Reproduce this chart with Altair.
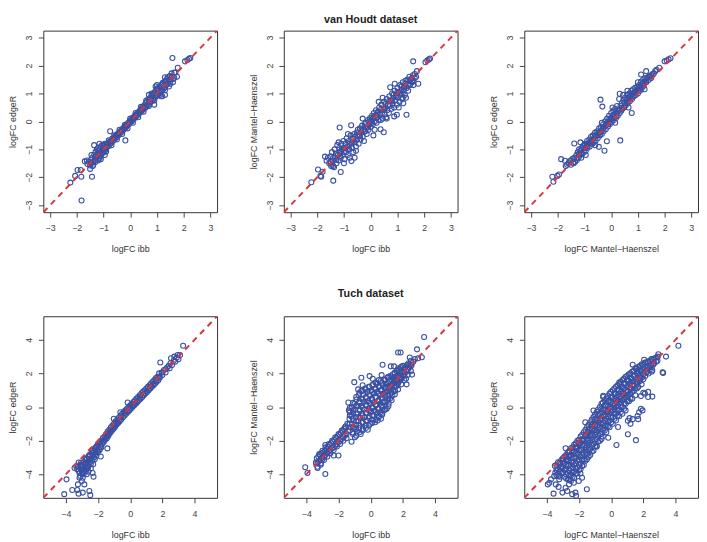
import altair as alt
import pandas as pd

# ---------------- data ----------------
# van Houdt dataset: (logFC ibb, logFC edgeR)
vh_ibb_edger = [
    (-1.55,-1.45),(-1.5,-1.58),(-1.48,-1.38),(-1.45,-1.5),(-1.42,-1.3),(-1.4,-1.45),(-1.38,-1.55),(-1.35,-1.2),
    (-1.35,-0.85),(-1.33,-1.4),(-1.3,-1.25),(-1.3,-1.1),(-1.28,-1.38),(-1.25,-1.0),(-1.25,-1.3),(-1.22,-1.18),
    (-1.2,-1.4),(-1.2,-0.95),(-1.18,-1.25),(-1.15,-1.05),(-1.15,-1.32),(-1.12,-1.15),(-1.1,-0.9),(-1.1,-1.25),
    (-1.08,-1.05),(-1.05,-1.15),(-1.05,-0.85),(-1.02,-0.98),(-1.0,-1.1),(-0.98,-0.9),(-0.95,-1.05),(-0.95,-0.8),
    (-0.92,-0.95),(-0.9,-1.0),(-0.88,-0.82),(-0.85,-0.9),(-0.82,-0.78),(-0.8,-0.88),(-0.78,-0.74),(-0.75,-0.35),
    (-0.75,-0.8),(-0.72,-0.7),(-0.7,-0.76),(-0.68,-0.62),(-0.65,-0.7),(-0.62,-0.6),(-0.6,-0.66),(-0.58,-0.55),
    (-0.55,-0.6),(-0.52,-0.5),(-0.5,-0.56),(-0.48,-0.45),(-0.45,-0.5),(-0.42,-0.4),(-0.4,-0.46),(-0.37,-0.35),
    (-0.35,-0.4),(-0.32,-0.3),(-0.3,-0.36),(-0.27,-0.25),(-0.25,-0.3),(-0.22,-0.2),(-0.2,-0.25),(-0.18,-0.68),
    (-0.17,-0.15),(-0.15,-0.2),(-0.12,-0.1),(-0.1,-0.15),(-0.07,-0.05),(-0.05,-0.1),(-0.02,0.0),(0.0,-0.04),
    (0.03,0.05),(0.05,0.0),(0.08,0.1),(0.1,0.06),(0.12,0.15),(0.15,0.1),(0.18,0.2),(0.2,0.15),(0.22,0.25),
    (0.25,0.2),(0.28,0.3),(0.3,0.25),(0.33,0.35),(0.35,0.3),(0.38,0.42),(0.4,0.35),(0.43,0.47),(0.45,0.4),
    (0.48,0.52),(0.5,0.44),(0.53,0.58),(0.55,0.48),(0.58,0.65),(0.6,0.52),(0.62,0.7),(0.65,0.58),(0.68,0.78),
    (0.7,0.62),(0.72,0.82),(0.75,0.68),(0.78,0.88),(0.8,0.72),(0.82,0.95),(0.85,0.78),(0.88,1.0),(0.9,0.82),
    (0.92,1.05),(0.95,0.88),(0.98,1.12),(1.0,0.92),(1.02,1.15),(1.05,0.98),(1.08,1.2),(1.1,1.02),(1.12,1.25),
    (1.15,1.08),(1.18,1.3),(1.2,1.12),(1.22,1.38),(1.25,1.18),(1.28,1.42),(1.3,1.22),(1.33,1.45),(1.35,1.3),
    (1.38,1.52),(1.4,1.35),(1.45,1.5),(1.48,1.62),(1.5,1.45),(1.55,1.6),(1.6,1.52),(1.65,1.75),(1.69,1.74),
    (1.78,1.92),(1.58,2.27),(2.05,2.15),(2.14,2.2),(2.2,2.24),(2.25,2.27),(1.3,0.95),(1.2,0.9),(0.9,0.6),
    (1.45,1.25),(1.6,1.4),(1.75,1.6),(0.7,0.95),(1.0,1.3),(1.3,1.58),
    (-1.7,-1.43),(-1.97,-1.74),(-1.85,-1.74),(-1.83,-1.98),(-2.06,-1.95),(-2.24,-2.19),(-1.43,-1.98),
    (-1.82,-2.83),(-1.4,-1.6),(-1.6,-1.52),(-1.62,-1.4),
    (-1.3,-1.45),(-1.2,-1.05),(-1.1,-1.35),(-1.0,-0.85),(-0.9,-1.08),(-0.8,-0.68),(-0.7,-0.85),(-0.6,-0.5),
    (-0.5,-0.65),(-0.4,-0.3),(-0.3,-0.45),(-0.2,-0.12),(-0.1,-0.25),(0.0,0.1),(0.1,-0.05),(0.2,0.3),
    (0.3,0.15),(0.4,0.52),(0.5,0.35),(0.6,0.75),(0.7,0.55),(0.8,1.0),(0.9,0.75),(1.0,1.18),(1.1,0.95),
    (1.2,1.35),(1.3,1.12),(1.4,1.58),(1.5,1.35),(1.55,1.72),(1.65,1.55),(-1.45,-1.2),(-1.5,-1.7),
    (-1.15,-0.8),(-0.95,-1.2),(0.95,1.25),(1.15,0.9),
]

# van Houdt dataset: (logFC ibb, logFC Mantel-Haenszel)
vh_ibb_mh = [
    (-1.65,-1.41),(-1.71,-1.26),(-1.6,-1.3),(-1.55,-1.5),(-1.5,-1.25),(-1.48,-1.6),(-1.45,-1.1),(-1.42,-1.4),
    (-1.4,-1.6),(-1.37,-1.64),(-1.35,-1.0),(-1.33,-1.3),(-1.3,-1.15),(-1.28,-1.5),(-1.25,-0.85),(-1.22,-1.2),
    (-1.2,-1.4),(-1.18,-0.95),(-1.16,-0.22),(-1.15,-1.1),(-1.12,-1.81),(-1.12,-1.3),(-1.1,-0.8),(-1.08,-1.0),
    (-1.05,-1.2),(-1.02,-0.7),(-1.0,-0.95),(-0.98,-1.35),(-0.95,-0.8),(-0.92,-1.1),(-0.9,-0.6),(-0.88,-0.9),
    (-0.85,-1.2),(-0.82,-0.7),(-0.8,-1.0),(-0.78,-1.3),(-0.75,-0.5),(-0.73,-0.14),(-0.72,-1.42),(-0.72,-0.8),
    (-0.7,-0.95),(-0.68,-0.6),(-0.65,-1.1),(-0.62,-0.45),(-0.6,-1.3),(-0.6,-0.75),(-0.58,-0.55),(-0.55,-0.9),
    (-0.52,-0.4),(-0.5,-0.65),(-0.48,-0.3),(-0.45,-0.8),(-0.42,-0.5),(-0.4,-0.25),(-0.38,-0.65),(-0.35,-0.4),
    (-0.32,-0.15),(-0.3,-0.55),(-0.28,-0.3),(-0.25,-0.7),(-0.22,-0.1),(-0.2,-0.35),(-0.18,-0.05),(-0.15,-0.45),
    (-0.12,-0.2),(-0.1,0.05),(-0.08,-0.3),(-0.05,-0.1),(-0.02,0.12),(0.0,-0.2),(0.02,0.0),(0.05,0.2),
    (0.08,-0.1),(0.1,-0.5),(0.1,0.1),(0.12,0.3),(0.15,0.0),(0.18,0.2),(0.2,0.4),(0.22,-0.05),(0.25,0.15),
    (0.28,0.35),(0.3,0.05),(0.32,0.5),(0.35,0.25),(0.37,-0.28),(0.38,0.05),(0.4,0.6),(0.42,0.3),(0.45,0.1),
    (0.48,0.45),(0.49,-0.39),(0.5,0.7),(0.52,0.25),(0.55,0.5),(0.58,0.15),(0.6,0.8),(0.62,0.4),(0.65,0.6),
    (0.68,0.3),(0.7,0.9),(0.72,0.55),(0.73,1.22),(0.75,0.75),(0.78,0.45),(0.8,1.0),(0.82,0.65),(0.85,0.85),
    (0.88,0.18),(0.88,0.5),(0.9,1.1),(0.92,0.75),(0.95,0.95),(0.98,0.24),(0.98,0.6),(1.0,1.2),(1.02,0.85),
    (1.05,1.05),(1.08,0.7),(1.1,1.3),(1.12,0.95),(1.15,1.15),(1.18,0.8),(1.2,1.4),(1.22,0.65),(1.22,1.05),
    (1.25,1.25),(1.28,0.95),(1.3,1.45),(1.32,0.85),(1.34,0.24),(1.35,1.2),(1.38,1.5),(1.4,1.1),(1.42,1.35),
    (1.45,1.6),(1.48,1.3),(1.5,1.5),(1.55,1.4),(1.58,1.65),(1.6,1.3),(1.65,1.55),(1.7,1.6),(1.73,1.8),
    (1.78,1.35),(1.59,2.15),(2.05,2.12),(2.12,2.18),(2.18,2.22),(2.22,2.25),
    (-1.4,-2.12),(-1.97,-1.72),(-1.8,-1.8),(-1.85,-1.98),(-2.22,-2.18),(-1.88,-1.95),
    (-1.5,-1.45),(-1.45,-1.55),(-1.4,-1.3),(-1.3,-1.38),(-1.25,-1.2),(-1.15,-1.25),(-1.1,-1.05),(-1.0,-1.1),
    (-0.95,-0.95),(-0.85,-1.0),(-0.8,-0.8),(-0.7,-0.75),(-0.65,-0.62),(-0.55,-0.68),(-0.5,-0.48),(-0.4,-0.52),
    (-0.35,-0.32),(-0.25,-0.38),(-0.2,-0.18),(-0.1,-0.22),(-0.05,0.0),(0.05,-0.05),(0.1,0.15),(0.2,0.12),
    (0.25,0.3),(0.35,0.28),(0.4,0.45),(0.5,0.42),(0.55,0.62),(0.65,0.58),(0.7,0.75),(0.8,0.72),(0.85,0.95),
    (0.95,0.88),(1.0,1.05),(1.1,1.02),(1.15,1.25),(1.25,1.15),(1.3,1.35),(1.4,1.3),(1.45,1.45),(1.55,1.55),
    (1.6,1.45),(1.65,1.7),(-1.2,-0.75),(-1.0,-1.5),(-0.55,-1.05),(-0.3,0.1),(0.15,-0.3),(0.45,0.85),
    (0.6,0.1),(0.9,1.35),(1.2,0.85),(-0.85,-0.45),(0.3,0.7),(1.05,0.5),
]

# van Houdt dataset: (logFC Mantel-Haenszel, logFC edgeR)
vh_mh_edger = [
    (-1.6,-1.5),(-1.55,-1.42),(-1.5,-1.55),(-1.45,-1.35),(-1.42,-1.48),(-1.38,-0.79),(-1.38,-1.3),(-1.35,-1.45),
    (-1.3,-1.2),(-1.28,-1.38),(-1.25,-1.1),(-1.22,-1.3),(-1.2,-1.0),(-1.18,-1.22),(-1.15,-1.05),(-1.12,-1.3),
    (-1.1,-0.95),(-1.08,-1.15),(-1.05,-0.88),(-1.02,-1.1),(-1.0,-0.95),(-0.98,-0.8),(-0.95,-1.05),(-0.92,-0.85),
    (-0.9,-0.7),(-0.88,-0.95),(-0.85,-0.8),(-0.82,-0.65),(-0.8,-0.9),(-0.78,-0.72),(-0.75,-0.55),(-0.72,-0.8),
    (-0.7,-0.65),(-0.68,-0.5),(-0.65,-0.75),(-0.62,-0.55),(-0.6,-0.4),(-0.58,-0.68),(-0.55,-0.5),(-0.52,-0.35),
    (-0.5,-0.6),(-0.48,-0.42),(-0.46,-0.91),(-0.45,-0.25),(-0.42,-0.5),(-0.4,0.78),(-0.4,-0.35),(-0.38,-0.2),
    (-0.35,-0.45),(-0.33,0.53),(-0.32,-0.25),(-0.3,-0.1),(-0.28,-0.35),(-0.25,-1.05),(-0.25,-0.18),(-0.22,0.0),
    (-0.2,-0.28),(-0.18,-0.08),(-0.16,-0.71),(-0.15,0.1),(-0.12,-0.18),(-0.1,0.0),(-0.08,0.2),(-0.05,-0.1),
    (-0.02,0.1),(0.0,0.3),(0.02,-0.02),(0.05,0.18),(0.08,0.38),(0.1,0.05),(0.12,0.25),(0.15,0.45),(0.18,0.12),
    (0.2,0.32),(0.22,0.55),(0.25,0.2),(0.28,0.42),(0.3,0.8),(0.32,0.99),(0.32,0.3),(0.34,-0.68),(0.35,0.55),
    (0.38,0.38),(0.4,0.65),(0.42,0.45),(0.45,0.75),(0.48,0.5),(0.5,0.68),(0.52,0.85),(0.55,0.58),(0.58,0.78),
    (0.6,0.95),(0.61,1.1),(0.62,0.65),(0.65,0.85),(0.68,1.0),(0.7,0.72),(0.72,0.92),(0.75,1.1),(0.77,0.3),
    (0.78,0.8),(0.8,1.0),(0.82,1.15),(0.85,0.9),(0.88,1.05),(0.9,1.2),(0.92,0.95),(0.95,1.12),(0.98,1.25),
    (1.0,1.0),(1.02,1.18),(1.05,1.3),(1.08,1.1),(1.1,1.25),(1.12,1.43),(1.12,1.68),(1.15,1.2),(1.18,1.35),
    (1.2,1.5),(1.22,1.28),(1.25,1.42),(1.28,1.55),(1.31,1.8),(1.32,1.4),(1.35,1.55),(1.4,1.48),(1.45,1.62),
    (1.5,1.55),(1.55,1.7),(1.65,1.8),(1.8,1.92),(2.0,2.15),(2.08,2.18),(2.15,2.22),(2.22,2.26),
    (-1.87,-1.35),(-1.73,-1.41),(-2.2,-1.98),(-2.16,-2.16),(-2.01,-1.95),(-1.95,-1.9),(-1.7,-1.6),(-1.65,-1.55),
    (-1.5,-1.4),(-1.4,-1.5),(-1.3,-1.32),(-1.2,-1.15),(-1.1,-1.18),(-1.0,-0.85),(-0.9,-0.9),(-0.8,-0.75),
    (-0.7,-0.8),(-0.6,-0.55),(-0.5,-0.5),(-0.4,-0.4),(-0.3,-0.25),(-0.2,-0.15),(-0.1,-0.08),(0.0,0.08),
    (0.1,0.15),(0.2,0.2),(0.3,0.4),(0.4,0.48),(0.5,0.55),(0.6,0.7),(0.7,0.85),(0.8,0.88),(0.9,1.05),
    (1.0,1.12),(1.1,1.15),(1.2,1.38),(1.3,1.45),(1.4,1.6),(1.5,1.65),(1.6,1.72),(1.7,1.85),(-1.15,-0.75),
    (-0.95,-1.2),(-0.6,-0.85),(-0.35,-0.05),(0.05,0.5),(0.15,-0.05),(0.45,0.95),(0.65,0.5),(1.0,1.4),(1.25,1.15),
]

# Tuch dataset: (logFC ibb, logFC edgeR)
tu_ibb_edger = [
    (3.29,3.65),(2.95,3.1),(2.74,3.0),(2.54,2.9),(1.87,2.65),(3.0,2.85),(2.8,2.7),(2.6,2.5),(2.45,2.3),
    (2.3,2.35),(2.2,2.05),(2.1,2.2),(2.0,1.9),(1.95,2.05),(1.85,1.75),(1.8,2.0),(1.75,1.6),(1.7,1.8),
    (1.65,1.5),(1.6,1.72),(1.55,1.4),(1.5,1.6),(1.45,1.3),(1.4,1.5),(1.35,1.2),(1.3,1.42),(1.25,1.1),
    (1.2,1.3),(1.15,1.0),(1.1,1.2),(1.05,0.9),(1.0,1.1),(0.95,0.8),(0.9,1.0),(0.85,0.7),(0.8,0.92),
    (0.75,0.6),(0.7,0.82),(0.65,0.5),(0.6,0.7),(0.55,0.4),(0.5,0.6),(0.45,0.3),(0.4,0.5),(0.35,0.2),
    (0.3,0.4),(0.25,0.1),(0.2,0.3),(0.15,0.0),(0.1,0.2),(0.05,-0.1),(0.0,0.1),(-0.05,-0.2),(-0.1,0.0),
    (-0.16,0.27),(-0.15,-0.3),(-0.2,-0.1),(-0.25,-0.4),(-0.3,-0.2),(-0.35,-0.5),(-0.4,-0.3),(-0.45,-0.6),
    (-0.5,-0.4),(-0.55,-0.72),(-0.6,-0.5),(-0.61,-0.31),(-0.65,-0.85),(-0.7,-0.62),(-0.75,-0.95),(-0.8,-0.75),
    (-0.85,-1.05),(-0.9,-0.85),(-0.95,-1.2),(-1.0,-0.98),(-1.02,-0.7),(-1.05,-1.3),(-1.1,-1.1),(-1.15,-1.42),
    (-1.2,-1.2),(-1.25,-1.55),(-1.28,-1.48),(-1.3,-1.35),(-1.35,-1.7),(-1.4,-1.45),(-1.42,-2.46),(-1.45,-1.85),
    (-1.5,-1.6),(-1.55,-1.95),(-1.6,-1.75),(-1.65,-2.1),(-1.7,-1.85),(-1.75,-2.2),(-1.8,-2.0),(-1.83,-2.94),
    (-1.85,-2.35),(-1.9,-2.1),(-1.95,-2.5),(-2.0,-2.2),(-2.05,-2.65),(-2.1,-2.35),(-2.15,-2.8),(-2.2,-2.45),
    (-2.25,-3.0),(-2.3,-2.6),(-2.3,-2.88),(-2.35,-3.2),(-2.4,-2.75),(-2.45,-3.4),(-2.5,-2.9),(-2.55,-3.1),
    (-2.6,-3.55),(-2.6,-2.95),(-2.65,-3.25),(-2.7,-3.7),(-2.7,-3.05),(-2.75,-3.4),(-2.8,-3.15),(-2.85,-3.6),
    (-2.9,-3.3),(-2.95,-3.85),(-3.0,-3.45),(-3.05,-3.7),(-3.1,-3.5),(-3.2,-3.8),(-3.25,-3.55),(-3.3,-3.7),
    (-3.96,-4.3),(-4.1,-5.18),(-3.6,-4.93),(-3.29,-4.93),(-3.21,-5.15),(-2.95,-5.09),(-2.48,-5.24),(-2.54,-4.99),
    (-2.85,-4.6),(-3.25,-4.6),(-2.95,-4.21),(-2.34,-3.92),(-2.28,-4.15),(-2.64,-3.63),(-3.35,-3.53),(-3.15,-3.92),
    (-2.88,-3.72),(-3.09,-3.43),(-2.74,-3.33),(-3.46,-3.63),(-3.0,-4.4),(-2.7,-4.0),(-3.1,-4.1),
    (-3.2,-3.3),(-3.15,-4.2),(-3.05,-3.3),(-3.0,-3.9),(-2.95,-3.55),(-2.9,-4.0),(-2.8,-3.45),(-2.8,-3.85),
    (-2.75,-3.1),(-2.65,-3.5),(-2.6,-3.85),(-2.55,-2.85),(-2.5,-3.3),(-2.45,-3.65),(-2.4,-3.05),(-2.35,-2.55),
    (-2.3,-3.4),(-2.25,-2.7),(-2.2,-3.1),(-2.15,-2.45),(-2.1,-2.9),(-2.05,-2.3),(-2.0,-2.7),(-1.95,-2.15),
    (-1.9,-2.55),(-1.85,-2.05),(-1.8,-2.4),(-1.7,-2.05),(-1.6,-1.95),(-1.5,-1.8),(-1.4,-1.65),(-1.3,-1.55),
    (-1.2,-1.35),(-1.1,-1.25),(-1.0,-1.15),(-0.9,-1.0),(-0.8,-0.9),(-0.7,-0.8),(-0.55,-0.55),(-0.35,-0.35),
    (-0.2,-0.25),(0.0,-0.05),(0.2,0.15),(0.4,0.35),(0.6,0.55),(0.8,0.75),(1.0,0.95),(1.2,1.15),(1.4,1.35),
    (1.6,1.55),(1.8,1.8),(2.0,2.05),(2.2,2.25),(2.4,2.45),(2.5,2.6),(2.7,2.75),(2.9,2.95),(3.1,3.1),
]

# Tuch dataset: (logFC ibb, logFC Mantel-Haenszel)
tu_ibb_mh = [
    (-3.4,-3.3),(-3.35,-3.05),(-3.3,-3.35),(-3.25,-2.95),(-3.2,-3.2),(-3.15,-2.85),(-3.1,-3.1),(-3.05,-2.75),
    (-3.0,-3.0),(-2.95,-2.7),(-2.9,-2.95),(-2.85,-2.6),(-2.82,-2.26),(-2.8,-2.85),(-2.75,-2.5),(-2.7,-2.75),
    (-2.65,-2.35),(-2.6,-2.65),(-2.55,-2.25),(-2.5,-2.55),(-2.45,-2.15),(-2.4,-2.45),(-2.35,-2.05),(-2.3,-2.4),
    (-2.25,-1.95),(-2.2,-2.3),(-2.15,-1.85),(-2.1,-2.2),(-2.05,-1.75),(-2.0,-2.1),(-1.95,-1.65),(-1.9,-2.0),
    (-1.85,-1.55),(-1.8,-1.9),(-1.75,-1.45),(-1.7,-1.8),(-1.65,-1.3),(-1.6,-1.7),(-1.55,-1.15),(-1.5,-1.6),
    (-1.45,-1.0),(-1.4,-1.45),
    (-1.39,0.27),(-1.35,-0.2),(-1.32,-0.7),(-1.29,-0.31),(-1.25,-1.2),(-1.2,-0.55),(-1.18,-0.05),(-1.15,-1.0),
    (-1.12,-1.5),(-1.1,-0.35),(-1.05,-0.8),(-1.0,0.2),(-1.0,-1.25),(-0.98,-1.8),(-0.95,-0.15),(-0.92,-0.6),
    (-0.9,-1.05),(-0.88,0.45),(-0.85,-1.45),(-0.82,0.05),(-0.8,-0.4),(-0.78,-0.85),(-0.75,0.7),(-0.72,-1.25),
    (-0.7,0.25),(-0.68,-0.2),(-0.65,-0.65),(-0.62,-1.6),(-0.6,0.95),(-0.58,0.5),(-0.55,0.05),(-0.52,-0.4),
    (-0.5,-0.9),(-0.48,-1.3),(-0.45,0.75),(-0.42,0.3),(-0.4,-0.15),(-0.38,-0.6),(-0.35,1.1),(-0.32,-1.1),
    (-0.3,0.55),(-0.28,0.1),(-0.25,-0.35),(-0.22,-0.8),(-0.2,0.9),(-0.18,-1.35),(-0.15,0.35),(-0.12,-0.1),
    (-0.1,1.2),(-0.08,-0.55),(-0.05,0.7),(-0.02,-1.0),(0.0,0.2),(0.02,-0.3),(0.05,1.0),(0.08,0.5),
    (0.1,-0.75),(0.12,0.0),(0.15,1.35),(0.18,-0.5),(0.2,0.8),(0.22,0.3),(0.25,-0.2),(0.28,-0.9),(0.3,1.1),
    (0.32,0.6),(0.35,0.1),(0.38,-0.4),(0.4,1.4),(0.42,0.9),(0.45,-0.1),(0.48,0.4),(0.5,-0.6),(0.52,1.2),
    (0.55,0.7),(0.58,0.2),(0.6,-0.3),(0.62,1.55),(0.65,1.0),(0.68,0.5),(0.7,0.0),(0.72,-0.45),(0.75,1.3),
    (0.78,0.8),(0.8,0.3),(0.82,-0.2),(0.85,1.65),(0.88,1.1),(0.9,0.6),(0.92,0.1),(0.95,1.4),(0.98,0.9),
    (1.02,0.4),(1.05,1.75),(1.08,1.2),(1.1,0.7),(1.12,0.2),
    (1.15,1.5),(1.18,1.0),(1.2,0.5),(1.22,1.85),(1.25,1.3),(1.28,0.85),(1.3,1.6),(1.32,1.1),(1.35,0.7),
    (1.38,1.95),(1.4,1.4),(1.42,1.0),(1.45,1.7),(1.48,1.2),(1.5,2.05),(1.52,0.95),(1.55,1.5),(1.58,1.8),
    (1.6,1.25),(1.62,2.15),(1.65,1.6),(1.68,1.35),(1.7,1.9),(1.72,2.3),(1.75,1.5),(1.78,1.75),(1.8,2.1),
    (1.85,1.6),(1.88,1.9),(1.9,2.3),(1.95,1.75),(1.98,2.05),(2.0,2.45),(2.05,1.9),(2.08,2.2),(2.15,2.35),
    (2.2,1.7),(2.22,2.1),(2.25,2.5),(2.3,2.25),(2.35,2.6),(2.4,2.35),(2.45,2.55),(2.5,2.75),(2.55,2.5),
    (2.65,2.7),(2.75,2.85),(2.95,2.9),
    (3.32,4.17),(2.88,3.43),(1.7,3.24),(1.86,3.24),(2.43,2.95),(3.18,2.96),(2.57,1.93),(2.23,1.35),
    (-1.02,1.48),(-0.58,1.74),(-0.07,1.84),(0.13,1.68),(0.74,2.52),(0.68,1.9),(1.25,2.42),(1.45,2.42),
    (-0.78,1.05),(-0.5,1.3),(0.44,-0.8),(0.64,-0.7),(1.0,-0.1),(-1.19,-2.06),(-2.3,-2.88),(-2.0,-2.88),
    (-2.82,-3.98),(-4.07,-3.58),(-3.93,-3.92),(-3.4,-3.33),(-3.3,-3.63),(-3.1,-3.43),(-3.0,-3.1),
    (-3.2,-2.8),(-3.0,-2.6),(-2.8,-2.4),(-2.6,-2.2),(-2.4,-2.0),(-2.2,-1.8),(-2.0,-1.6),(-1.8,-1.4),
    (-1.6,-1.2),(-3.3,-3.55),(-3.1,-3.35),(-2.9,-3.15),(-2.7,-2.95),(-2.5,-2.75),(-2.3,-2.55),(-2.1,-2.35),
    (-1.9,-2.2),(-1.7,-2.0),(-1.5,-1.85),
]
# Tuch dataset, dense core of the ibb / Mantel-Haenszel cloud: (ibb, [Mantel-Haenszel values])
tu_ibb_mh_core = [
    (-1.3, [-1.4, -1.0, -0.5, -0.05]),
    (-1.1, [-1.6, -1.2, -0.7, -0.2, 0.25]),
    (-0.9, [-1.7, -1.3, -0.85, -0.4, 0.1, 0.6]),
    (-0.7, [-1.5, -1.05, -0.6, -0.15, 0.35, 0.85]),
    (-0.5, [-1.4, -0.95, -0.5, -0.05, 0.45, 0.95]),
    (-0.3, [-1.25, -0.8, -0.35, 0.15, 0.6, 1.05]),
    (-0.1, [-1.1, -0.65, -0.2, 0.25, 0.75, 1.2]),
    (0.1, [-0.95, -0.5, -0.05, 0.4, 0.9, 1.3]),
    (0.3, [-0.75, -0.3, 0.15, 0.6, 1.05, 1.45]),
    (0.5, [-0.55, -0.1, 0.35, 0.8, 1.25, 1.6]),
    (0.7, [-0.35, 0.1, 0.55, 1.0, 1.45]),
    (0.9, [-0.15, 0.3, 0.75, 1.2, 1.6]),
    (1.1, [0.05, 0.5, 0.95, 1.4, 1.8]),
    (1.3, [0.4, 0.85, 1.3, 1.75]),
    (1.5, [0.75, 1.2, 1.6, 2.0]),
    (1.7, [1.05, 1.45, 1.85, 2.2]),
    (1.9, [1.35, 1.7, 2.05, 2.4]),
    (2.1, [1.6, 1.95, 2.3]),
    (2.3, [1.9, 2.2, 2.5]),
    (2.5, [2.15, 2.45]),
]

# Tuch dataset: (logFC Mantel-Haenszel, logFC edgeR)
tu_mh_edger = [
    (-3.5,-3.5),(-3.47,-3.9),(-3.3,-3.28),(-3.32,-3.7),(-3.28,-4.1),(-3.1,-3.15),(-3.12,-3.55),(-3.08,-3.95),
    (-2.9,-2.95),(-2.92,-3.35),(-2.88,-3.75),(-2.91,-4.15),(-2.7,-2.7),(-2.72,-3.1),(-2.68,-3.5),(-2.71,-3.9),
    (-2.69,-4.3),(-2.5,-2.45),(-2.52,-2.85),(-2.48,-3.25),(-2.51,-3.65),(-2.49,-4.05),(-2.5,-4.4),(-2.3,-2.25),
    (-2.32,-2.65),(-2.28,-3.05),(-2.31,-3.45),(-2.29,-3.85),(-2.3,-4.2),(-2.1,-2.0),(-2.12,-2.4),(-2.08,-2.8),
    (-2.11,-3.2),(-2.09,-3.6),(-2.1,-3.95),(-1.9,-1.75),(-1.92,-2.15),(-1.88,-2.55),(-1.91,-2.95),(-1.89,-3.35),
    (-1.9,-3.7),(-1.7,-1.5),(-1.72,-1.9),(-1.68,-2.3),(-1.71,-2.7),(-1.69,-3.1),(-1.7,-3.45),(-1.5,-1.2),
    (-1.52,-1.6),(-1.48,-2.0),(-1.51,-2.4),(-1.49,-2.8),(-1.5,-3.1),(-1.3,-0.9),(-1.32,-1.3),(-1.28,-1.7),
    (-1.31,-2.1),(-1.29,-2.5),(-1.3,-2.85),(-1.1,-0.6),(-1.12,-1.0),(-1.08,-1.4),(-1.11,-1.8),(-1.09,-2.2),
    (-1.1,-2.6),(-0.9,-0.3),(-0.92,-0.7),(-0.88,-1.1),(-0.91,-1.5),(-0.89,-1.9),(-0.9,-2.3),(-0.7,0.0),
    (-0.72,-0.4),(-0.68,-0.8),(-0.71,-1.2),(-0.69,-1.6),(-0.7,-2.0),(-0.5,0.6),(-0.52,0.25),(-0.48,-0.15),
    (-0.51,-0.55),(-0.49,-0.95),(-0.5,-1.35),(-0.52,-1.75),(-0.3,0.5),(-0.32,0.1),(-0.28,-0.3),(-0.31,-0.7),
    (-0.29,-1.1),(-0.3,-1.5),(-0.1,0.8),(-0.12,0.4),(-0.08,0.0),(-0.11,-0.4),(-0.09,-0.8),(-0.1,-1.2),
    (0.1,1.0),(0.08,0.6),(0.12,0.2),(0.09,-0.2),(0.11,-0.6),(0.1,-1.0),(0.3,1.2),(0.28,0.8),(0.32,0.4),
    (0.29,0.0),(0.31,-0.4),(0.3,-0.8),(0.5,1.45),(0.48,1.05),(0.52,0.65),(0.49,0.25),(0.51,-0.15),(0.5,-0.55),
    (0.7,1.6),(0.68,1.2),(0.72,0.8),(0.69,0.4),(0.71,0.0),(0.7,-0.4),(0.9,1.8),(0.88,1.4),(0.92,1.0),
    (0.89,0.6),(0.91,0.2),(0.9,-0.2),(1.1,1.95),(1.08,1.55),(1.12,1.15),(1.09,0.75),(1.11,0.35),(1.3,2.1),
    (1.28,1.7),(1.32,1.3),(1.29,0.9),(1.31,0.5),(1.5,2.3),(1.48,1.9),(1.52,1.5),(1.49,1.1),(1.51,0.7),
    (1.7,2.4),(1.68,2.0),(1.72,1.6),(1.69,1.2),(1.9,2.55),(1.88,2.15),(1.92,1.75),(1.89,1.35),(2.1,2.65),
    (2.08,2.25),(2.12,1.85),(2.3,2.7),(2.28,2.35),(2.32,2.0),(2.5,2.85),(2.48,2.5),(2.52,2.1),(2.7,2.9),
    (2.68,2.6),(2.9,3.0),(2.88,2.75),
    (-3.2,-3.4),(-3.0,-3.2),(-2.8,-2.95),(-2.6,-2.7),(-2.4,-2.55),(-2.2,-2.35),(-2.0,-2.1),(-1.8,-1.95),
    (-1.6,-1.7),(-1.4,-1.5),(-1.2,-1.3),(-1.0,-1.1),(-0.8,-0.9),(-0.6,-0.7),(-0.4,-0.5),(-0.2,-0.3),
    (0.0,-0.1),(0.2,0.1),(0.4,0.3),(0.6,0.5),(0.8,0.7),(1.0,0.9),(1.2,1.1),(1.4,1.3),(1.6,1.5),(1.8,1.7),
    (2.0,1.95),(2.2,2.15),(2.4,2.35),(2.6,2.5),
    (4.18,3.65),(2.93,3.14),(3.41,3.0),(3.23,2.03),(3.2,2.07),(2.56,2.18),(1.34,2.52),(2.05,2.81),(1.65,2.13),
    (1.04,1.64),(0.53,1.35),(-0.49,0.67),(-1.1,-0.21),(-1.61,-0.9),(-2.83,-2.45),(1.85,0.65),(2.1,0.8),
    (2.3,0.6),(2.56,0.62),(2.0,0.85),(2.3,0.9),(1.85,-0.1),(1.95,-0.2),(1.74,-0.31),(1.64,-0.53),(1.68,-0.72),
    (1.34,-0.72),(1.04,-0.82),(1.14,-0.66),(1.2,-1.0),(0.43,-1.19),(1.04,-1.62),(1.54,-1.97),(0.33,-2.26),
    (-0.18,-1.83),(-0.9,-2.36),(-3.58,-5.15),(-3.27,-4.75),(-3.03,-5.09),(-2.83,-4.8),(-2.73,-4.99),
    (-2.42,-5.18),(-2.22,-5.09),(-2.18,-5.28),(-2.62,-4.6),(-2.32,-4.5),(-1.91,-3.95),(-2.01,-4.4),
    (-1.51,-4.89),(-1.81,-4.21),(-3.23,-4.3),(-3.54,-4.11),(-3.84,-4.5),(-3.94,-4.6),(-3.74,-4.3),(-3.44,-4.6),
]
# Tuch dataset, dense core of the Mantel-Haenszel / edgeR cloud: (MH, [edgeR values])
tu_mh_edger_core = [
    (-3.4, [-3.45, -3.75, -4.05]),
    (-3.2, [-3.3, -3.6, -3.85, -4.15]),
    (-3.0, [-3.05, -3.35, -3.6, -3.9]),
    (-2.8, [-2.85, -3.15, -3.45, -3.7, -4.0, -4.25]),
    (-2.6, [-2.6, -2.9, -3.2, -3.45, -3.75, -4.05, -4.3]),
    (-2.4, [-2.4, -2.7, -3.0, -3.3, -3.6, -3.9, -4.15]),
    (-2.2, [-2.15, -2.45, -2.75, -3.05, -3.35, -3.65, -3.95]),
    (-2.0, [-1.95, -2.25, -2.55, -2.85, -3.15, -3.45, -3.75]),
    (-1.8, [-1.65, -1.95, -2.25, -2.55, -2.85, -3.15, -3.5]),
    (-1.6, [-1.35, -1.65, -1.95, -2.25, -2.55, -2.85, -3.2]),
    (-1.4, [-1.05, -1.35, -1.65, -1.95, -2.25, -2.55, -2.95]),
    (-1.2, [-0.75, -1.05, -1.35, -1.65, -1.95, -2.25, -2.65]),
    (-1.0, [-0.45, -0.75, -1.05, -1.35, -1.65, -1.95, -2.35]),
    (-0.8, [-0.15, -0.45, -0.75, -1.05, -1.35, -1.65, -2.05]),
    (-0.6, [0.2, -0.1, -0.4, -0.7, -1.0, -1.3, -1.6, -1.9]),
    (-0.4, [0.4, 0.1, -0.2, -0.5, -0.8, -1.1, -1.4]),
    (-0.2, [0.65, 0.35, 0.05, -0.25, -0.55, -0.85, -1.15]),
    (0.0, [0.9, 0.6, 0.3, 0.0, -0.3, -0.6, -0.9]),
    (0.2, [1.1, 0.8, 0.5, 0.2, -0.1, -0.4, -0.7]),
    (0.4, [1.3, 1.0, 0.7, 0.4, 0.1, -0.2, -0.5]),
    (0.6, [1.5, 1.2, 0.9, 0.6, 0.3, 0.0, -0.3]),
    (0.8, [1.7, 1.4, 1.1, 0.8, 0.5, 0.2, -0.1]),
    (1.0, [1.85, 1.55, 1.25, 0.95, 0.65, 0.35]),
    (1.2, [2.0, 1.7, 1.4, 1.1, 0.8, 0.5]),
    (1.4, [2.15, 1.85, 1.55, 1.25, 0.95]),
    (1.6, [2.3, 2.0, 1.7, 1.4, 1.1]),
    (1.8, [2.45, 2.15, 1.85, 1.55]),
    (2.0, [2.55, 2.25, 1.95, 1.65]),
    (2.2, [2.65, 2.35, 2.05]),
    (2.4, [2.75, 2.45, 2.2]),
    (2.6, [2.85, 2.55]),
    (2.8, [2.95, 2.7]),
]

top_ticks = [-3, -2, -1, 0, 1, 2, 3]
bottom_ticks = [-4, -2, 0, 2, 4]
top_limit = 3.25
bottom_limit = 5.4

BLUE = "#3A50A2"
RED = "#D9363E"
FONT = "Liberation Sans"
PW, PH = 177, 185


def expand(columns):
    return [(x, y) for x, ys in columns for y in ys]


def panel(pairs, xtitle, ytitle, lim, ticks, title=None, title_offset=9):
    df = pd.DataFrame(pairs, columns=["x", "y"])
    sc = alt.Scale(domain=[-lim, lim], nice=False, zero=False)
    ax = alt.Axis(values=ticks, title=xtitle, grid=False, domain=False, tickSize=5,
                  tickColor="#444", labelPadding=7, labelBaseline="top", labelFontSize=9,
                  labelColor="#444", titleFontSize=9, titleColor="#333", titlePadding=12,
                  titleFontWeight="normal", labelFlush=False, labelOverlap=False)
    ay = alt.Axis(values=ticks, title=ytitle, grid=False, domain=False, tickSize=5,
                  tickColor="#444", labelAngle=270, labelAlign="center",
                  labelBaseline="alphabetic", labelPadding=7, labelFontSize=9,
                  labelColor="#444", titleFontSize=9, titleColor="#333", titlePadding=7,
                  titleFontWeight="normal", labelFlush=False, labelOverlap=False)
    pts = alt.Chart(df).mark_point(shape="circle", filled=False, size=26, strokeWidth=1.1,
                                   color=BLUE, opacity=1).encode(
        x=alt.X("x:Q", scale=sc, axis=ax),
        y=alt.Y("y:Q", scale=sc, axis=ay),
    )
    diag = pd.DataFrame({"x": [-lim, lim], "y": [-lim, lim]})
    line = alt.Chart(diag).mark_line(color=RED, strokeDash=[6, 5], strokeWidth=2, clip=True).encode(
        x=alt.X("x:Q", scale=sc, axis=ax),
        y=alt.Y("y:Q", scale=sc, axis=ay),
    )
    ch = alt.layer(pts, line).properties(width=PW, height=PH)
    if title:
        ch = ch.properties(title=alt.TitleParams(title, fontSize=11, fontWeight="bold", font=FONT,
                                                 color="#222", anchor="middle", frame="group",
                                                 offset=title_offset))
    return ch


MH = "logFC Mantel\u2212Haenszel"
row1 = alt.hconcat(
    panel(vh_ibb_edger, "logFC ibb", "logFC edgeR", top_limit, top_ticks),
    panel(vh_ibb_mh, "logFC ibb", MH, top_limit, top_ticks, title="van Houdt dataset", title_offset=6),
    panel(vh_mh_edger, MH, "logFC edgeR", top_limit, top_ticks),
    spacing=68, bounds="flush",
)
row2 = alt.hconcat(
    panel(tu_ibb_edger, "logFC ibb", "logFC edgeR", bottom_limit, bottom_ticks),
    panel(tu_ibb_mh + expand(tu_ibb_mh_core), "logFC ibb", MH, bottom_limit, bottom_ticks,
          title="Tuch dataset", title_offset=18),
    panel(tu_mh_edger + expand(tu_mh_edger_core), MH, "logFC edgeR", bottom_limit, bottom_ticks),
    spacing=68, bounds="flush",
)

chart = alt.vconcat(row1, row2, spacing=33, padding=0).configure_view(
    stroke="#333", strokeWidth=1
).configure_axis(labelFont=FONT, titleFont=FONT).configure_title(font=FONT)

chart.save("out.html", embed_options={"renderer": "svg", "actions": False})
